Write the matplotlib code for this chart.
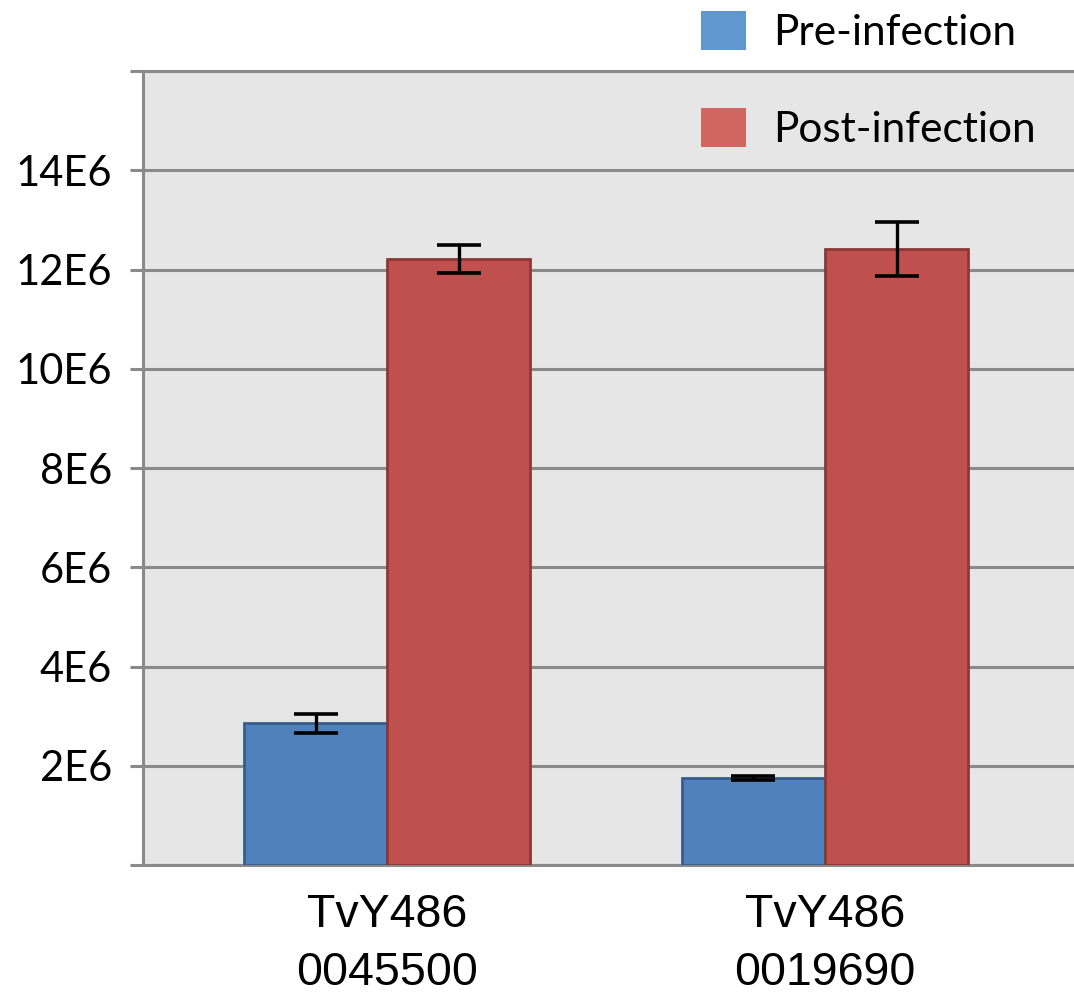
import matplotlib
matplotlib.use("Agg")
from matplotlib import pyplot as plt
from matplotlib.patches import Patch
import numpy as np

# data
genes = ["TvY486\n0045500", "TvY486\n0019690"]
pre = [2.86e6, 1.76e6]
pre_err = [0.19e6, 0.04e6]
post = [12.21e6, 12.41e6]
post_err = [0.28e6, 0.54e6]
yticks = [0, 2e6, 4e6, 6e6, 8e6, 10e6, 12e6, 14e6, 16e6]
ylabels = ["", "2E6", "4E6", "6E6", "8E6", "10E6", "12E6", "14E6", ""]

grey = "#8a8a8a"
W, H = 1074, 993
fig = plt.figure(figsize=(W / 100, H / 100), dpi=100)
ax = fig.add_axes([143 / W, (H - 865) / H, 1 - 143 / W, (865 - 71) / H])
ax.set_facecolor("#e6e6e6")

x = np.arange(len(genes))
w = 0.327
ekw = dict(elinewidth=2.4, capthick=2.6, ecolor="black")
ax.bar(x - w / 2, pre, w, color="#4f81bd", edgecolor="#385d8a", linewidth=2,
       yerr=pre_err, capsize=16, error_kw=ekw, zorder=3)
ax.bar(x + w / 2, post, w, color="#c0504d", edgecolor="#8c3836", linewidth=2,
       yerr=post_err, capsize=16, error_kw=ekw, zorder=3)

ax.set_xlim((143 - 387.3) / 437.7, (1074 - 387.3) / 437.7)
ax.set_ylim(0, 16e6)
ax.set_yticks(yticks)
ax.set_yticklabels(ylabels, fontsize=30, family="Lato")
ax.set_xticks(x)
ax.set_xticklabels(genes, fontsize=33.5, family="Liberation Sans", linespacing=1.42)
ax.tick_params(axis="y", length=9.5, width=2.2, color=grey, pad=13)
ax.tick_params(axis="x", length=0, pad=20)
ax.yaxis.grid(True, color=grey, linewidth=2.2, zorder=1)
ax.set_axisbelow(True)
for s in ["top", "bottom", "left"]:
    ax.spines[s].set_color(grey)
    ax.spines[s].set_linewidth(2.2)
ax.spines["right"].set_visible(False)

handles = [Patch(facecolor="#6097ce", edgecolor="none", label="Pre-infection"),
           Patch(facecolor="#d0665f", edgecolor="none", label="Post-infection")]
fig.legend(handles=handles, loc="upper left", bbox_to_anchor=(701 / W, (H - 11) / H),
           frameon=False, prop=dict(family="Lato", size=30.5), borderpad=0,
           borderaxespad=0, handlelength=1.06, handleheight=1.04,
           handletextpad=0.65, labelspacing=1.32)

fig.savefig("out.png", dpi=100)
